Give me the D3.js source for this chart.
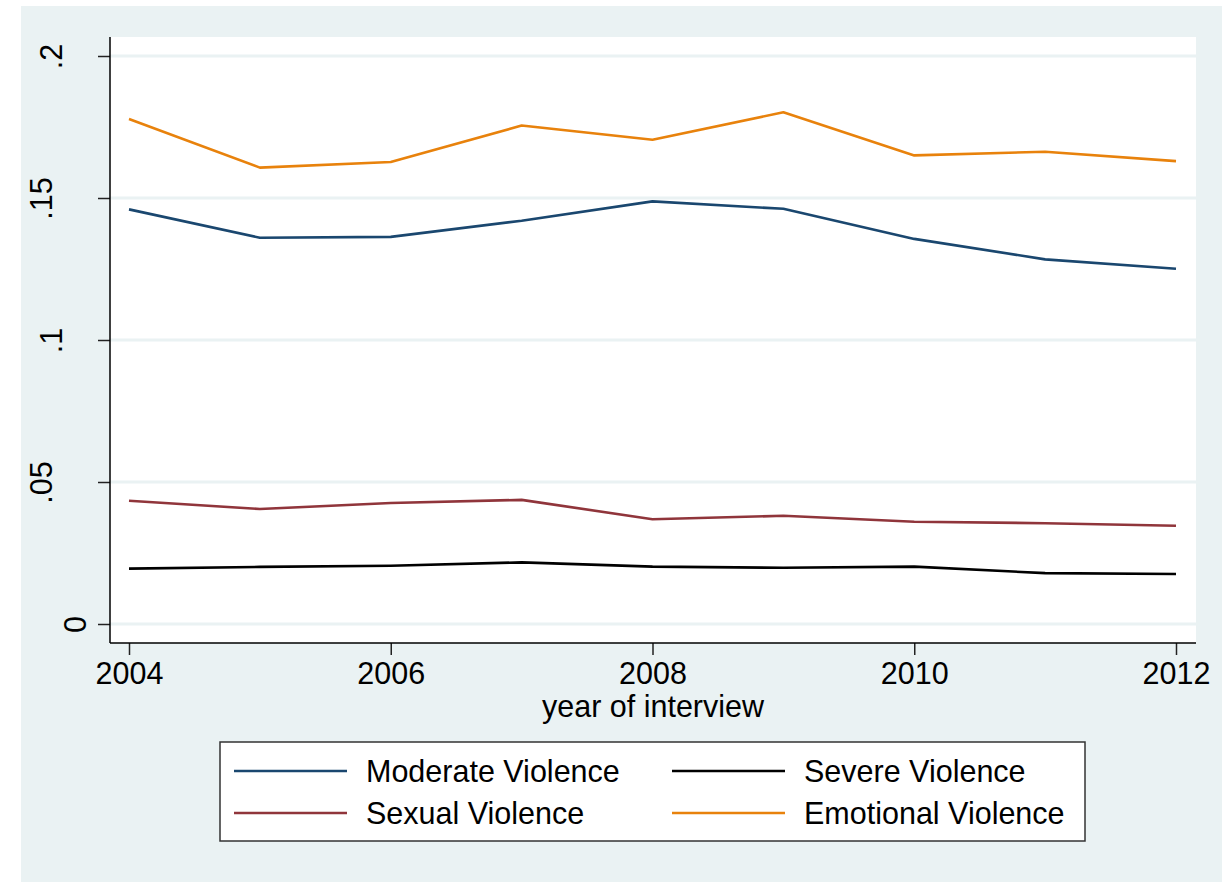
<!DOCTYPE html>
<head>
<meta charset="utf-8">
<style>
  body { margin:0; background:#fff; }
  svg { display:block; }
  text { font-family: "Liberation Sans", Arial, sans-serif; fill:#000; }
</style>
<script src="https://d3js.org/d3.v7.min.js"></script>
</head>
<body>
<script>

var width = 1222;
var height = 882;

// data
var years = [2004, 2005, 2006, 2007, 2008, 2009, 2010, 2011, 2012];
var moderate  = [0.1460, 0.1360, 0.1363, 0.1420, 0.1488, 0.1462, 0.1356, 0.1284, 0.1251];
var severe    = [0.0195, 0.0201, 0.0205, 0.0217, 0.0202, 0.0198, 0.0202, 0.0179, 0.0176];
var sexual    = [0.0434, 0.0405, 0.0426, 0.0437, 0.0369, 0.0381, 0.0360, 0.0355, 0.0346];
var emotional = [0.1778, 0.1607, 0.1627, 0.1755, 0.1705, 0.1802, 0.1650, 0.1663, 0.1630];
var yTicks = [0, 0.05, 0.1, 0.15, 0.2];
var yTickLabels = ["0", ".05", ".1", ".15", ".2"];
var xTicks = [2004, 2006, 2008, 2010, 2012];

var series = [
  {name: "Moderate Violence", values: moderate, color: "#1A476F"},
  {name: "Severe Violence", values: severe, color: "#000000"},
  {name: "Sexual Violence", values: sexual, color: "#90353B"},
  {name: "Emotional Violence", values: emotional, color: "#E8820C"}
];

var bg = "#EAF2F3";
var fs = 30.5;
var plot = {left: 110, right: 1196, top: 37, bottom: 643};

var x = d3.scaleLinear().domain([2004, 2012]).range([129, 1176]);
var y = d3.scaleLinear().domain([0, 0.2]).range([624, 56]);

var svg = d3.select("body").append("svg")
    .attr("width", width)
    .attr("height", height);

// graph region
svg.append("rect")
    .attr("x", 21).attr("y", 6)
    .attr("width", width - 21).attr("height", height - 6)
    .attr("fill", bg);

// plot region
svg.append("rect")
    .attr("x", plot.left).attr("y", plot.top)
    .attr("width", plot.right - plot.left).attr("height", plot.bottom - plot.top)
    .attr("fill", "#fff");

// gridlines
svg.append("g").selectAll("line")
    .data(yTicks)
    .enter().append("line")
      .attr("x1", plot.left).attr("x2", plot.right)
      .attr("y1", d => y(d)).attr("y2", d => y(d))
      .attr("stroke", bg)
      .attr("stroke-width", 3);

// y axis
var yAxis = d3.axisLeft(y)
    .tickValues(yTicks)
    .tickSize(12)
    .tickFormat((d, i) => yTickLabels[i]);

var gy = svg.append("g")
    .attr("transform", "translate(" + plot.left + ",0)")
    .call(yAxis);
gy.select(".domain").remove();
gy.selectAll(".tick line").attr("stroke", "#222").attr("stroke-width", 1.5);
// stata pushes the longer rotated labels further left
var labelShift = {1: -24, 2: -48, 3: -58};
gy.selectAll(".tick text")
    .attr("x", null).attr("dy", null)
    .attr("font-size", fs)
    .attr("font-family", "Liberation Sans, Arial, sans-serif")
    .attr("text-anchor", "middle")
    .attr("transform", (d, i) => "translate(" + labelShift[yTickLabels[i].length] + ",0) rotate(-90)");
gy.append("line")
    .attr("x1", 0).attr("x2", 0)
    .attr("y1", plot.top).attr("y2", plot.bottom)
    .attr("stroke", "#000").attr("stroke-width", 1.5);

// x axis
var xAxis = d3.axisBottom(x)
    .tickValues(xTicks)
    .tickSize(12)
    .tickPadding(7)
    .tickFormat(d3.format("d"));

var gx = svg.append("g")
    .attr("transform", "translate(0," + plot.bottom + ")")
    .call(xAxis);
gx.select(".domain").remove();
gx.selectAll(".tick line").attr("stroke", "#222").attr("stroke-width", 1.5);
gx.selectAll(".tick text")
    .attr("font-size", fs)
    .attr("font-family", "Liberation Sans, Arial, sans-serif");
gx.append("line")
    .attr("x1", plot.left).attr("x2", plot.right)
    .attr("y1", 0).attr("y2", 0)
    .attr("stroke", "#000").attr("stroke-width", 1.5);

svg.append("text")
    .attr("x", 653).attr("y", 717)
    .attr("text-anchor", "middle")
    .attr("font-size", fs)
    .text("year of interview");

// lines
var line = d3.line()
    .x((d, i) => x(years[i]))
    .y(d => y(d));

svg.append("g").selectAll("path")
    .data(series)
    .enter().append("path")
      .attr("d", d => line(d.values))
      .attr("fill", "none")
      .attr("stroke", d => d.color)
      .attr("stroke-width", 2.6)
      .attr("stroke-linejoin", "round");

// legend
var legend = svg.append("g");
legend.append("rect")
    .attr("x", 220).attr("y", 742)
    .attr("width", 865).attr("height", 99)
    .attr("fill", "#fff")
    .attr("stroke", "#333").attr("stroke-width", 1.5);

var colX = [234, 672];
var rowY = [771, 813];
var item = legend.selectAll("g.item")
    .data(series)
    .enter().append("g")
      .attr("class", "item")
      .attr("transform", (d, i) => "translate(" + colX[i % 2] + "," + rowY[Math.floor(i / 2)] + ")");
item.append("line")
    .attr("x1", 0).attr("x2", 113)
    .attr("y1", 0).attr("y2", 0)
    .attr("stroke", d => d.color)
    .attr("stroke-width", 2.6);
item.append("text")
    .attr("x", 132).attr("y", 11)
    .attr("font-size", fs)
    .text(d => d.name);

</script>
</body>
